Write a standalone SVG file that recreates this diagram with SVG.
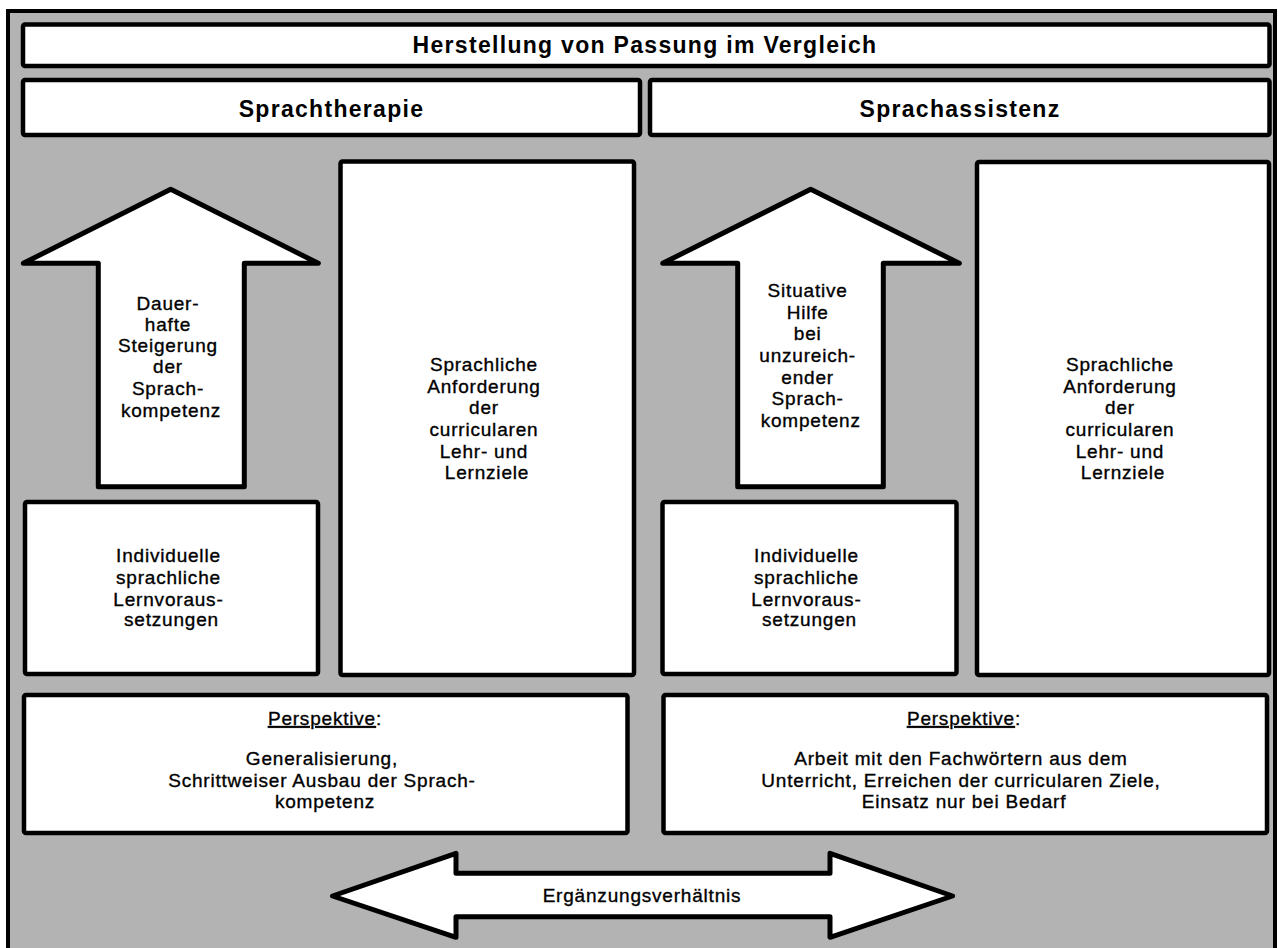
<svg xmlns="http://www.w3.org/2000/svg" width="1278" height="948" viewBox="0 0 1278 948">
<style>
.bg{fill:#b3b3b3;stroke:#000;stroke-width:4}
.box{fill:#fff;stroke:#000;stroke-width:4.5;stroke-linejoin:round}
.arr{fill:#fff;stroke:#000;stroke-width:5;stroke-linejoin:round}
.t{font-family:"Liberation Sans",Arial,sans-serif;font-size:19px;letter-spacing:0.8px;text-anchor:middle;fill:#000;stroke:#000;stroke-width:0.35px}
.h{font-family:"Liberation Sans",Arial,sans-serif;font-size:23px;font-weight:bold;letter-spacing:1.3px;text-anchor:middle;fill:#000}
.u{text-decoration:underline}
</style>
<rect width="1278" height="948" fill="#fff"/>
<rect class="bg" x="8" y="11" width="1267" height="960"/>

<g id="title">
<rect class="box" x="23" y="24.5" width="1246.5" height="41.5" rx="2"/>
<text class="h" x="645" y="53">Herstellung von Passung im Vergleich</text>
</g>

<g id="sprachtherapie">
<rect class="box" x="23" y="80" width="617" height="55" rx="2"/>
<text class="h" x="331.5" y="116.5">Sprachtherapie</text>
</g>

<g id="sprachassistenz">
<rect class="box" x="650" y="80" width="619.5" height="55" rx="2"/>
<text class="h" x="960" y="116.5">Sprachassistenz</text>
</g>

<g id="arrow-therapie">
<polygon class="arr" points="98.3,486.7 98.3,263.3 23.3,263.3 170.7,189.3 318.3,263.3 244.3,263.3 244.3,486.7"/>
<text class="t">
<tspan x="171" y="310">Dauer-</tspan>
<tspan x="171" y="331">hafte</tspan>
<tspan x="171" y="352">Steigerung</tspan>
<tspan x="171" y="373">der</tspan>
<tspan x="171" y="395">Sprach-</tspan>
<tspan x="171" y="416.5">kompetenz</tspan>
</text>
</g>

<g id="anforderung-therapie">
<rect class="box" x="340.5" y="161.5" width="293.5" height="513.5" rx="2"/>
<text class="t">
<tspan x="487" y="370.5">Sprachliche</tspan>
<tspan x="487" y="392.5">Anforderung</tspan>
<tspan x="487" y="414">der</tspan>
<tspan x="487" y="435.5">curricularen</tspan>
<tspan x="487" y="457.5">Lehr- und</tspan>
<tspan x="487" y="479">Lernziele</tspan>
</text>
</g>

<g id="lernvoraussetzungen-therapie">
<rect class="box" x="25" y="502" width="293" height="172" rx="2"/>
<text class="t">
<tspan x="171.5" y="561.5">Individuelle</tspan>
<tspan x="171.5" y="583.5">sprachliche</tspan>
<tspan x="171.5" y="605.5">Lernvoraus-</tspan>
<tspan x="171.5" y="626">setzungen</tspan>
</text>
</g>

<g id="arrow-assistenz">
<polygon class="arr" points="737.7,486.7 737.7,263.3 662.7,263.3 810.7,189.3 959.3,263.3 883.3,263.3 883.3,486.7"/>
<text class="t">
<tspan x="810.7" y="297">Situative</tspan>
<tspan x="810.7" y="318.5">Hilfe</tspan>
<tspan x="810.7" y="340">bei</tspan>
<tspan x="810.7" y="362">unzureich-</tspan>
<tspan x="810.7" y="383.5">ender</tspan>
<tspan x="810.7" y="405">Sprach-</tspan>
<tspan x="810.7" y="426.5">kompetenz</tspan>
</text>
</g>

<g id="anforderung-assistenz">
<rect class="box" x="977" y="162" width="292" height="513" rx="2"/>
<text class="t">
<tspan x="1123" y="370.5">Sprachliche</tspan>
<tspan x="1123" y="392.5">Anforderung</tspan>
<tspan x="1123" y="414">der</tspan>
<tspan x="1123" y="435.5">curricularen</tspan>
<tspan x="1123" y="457.5">Lehr- und</tspan>
<tspan x="1123" y="479">Lernziele</tspan>
</text>
</g>

<g id="lernvoraussetzungen-assistenz">
<rect class="box" x="662.5" y="502" width="294" height="172" rx="2"/>
<text class="t">
<tspan x="809.5" y="561.5">Individuelle</tspan>
<tspan x="809.5" y="583.5">sprachliche</tspan>
<tspan x="809.5" y="605.5">Lernvoraus-</tspan>
<tspan x="809.5" y="626">setzungen</tspan>
</text>
</g>

<g id="perspektive-therapie">
<rect class="box" x="24" y="695" width="603.5" height="138" rx="2"/>
<text class="t" x="325" y="725"><tspan class="u">Perspektive</tspan>:</text>
<text class="t">
<tspan x="325" y="765">Generalisierung,</tspan>
<tspan x="325" y="786.5">Schrittweiser Ausbau der Sprach-</tspan>
<tspan x="325" y="808">kompetenz</tspan>
</text>
</g>

<g id="perspektive-assistenz">
<rect class="box" x="663.5" y="695" width="603.5" height="138" rx="2"/>
<text class="t" x="964" y="725"><tspan class="u">Perspektive</tspan>:</text>
<text class="t">
<tspan x="964" y="765">Arbeit mit den Fachwörtern aus dem</tspan>
<tspan x="964" y="786.5">Unterricht, Erreichen der curricularen Ziele,</tspan>
<tspan x="964" y="808">Einsatz nur bei Bedarf</tspan>
</text>
</g>

<g id="connectors">
<polygon class="arr" points="332.5,896 456,853.3 456,873.3 830,873.3 830,853.3 952.6,896 830,937.3 830,916.7 456,916.7 456,937.3"/>
<text class="t" x="642" y="902">Ergänzungsverhältnis</text>
</g>
</svg>
